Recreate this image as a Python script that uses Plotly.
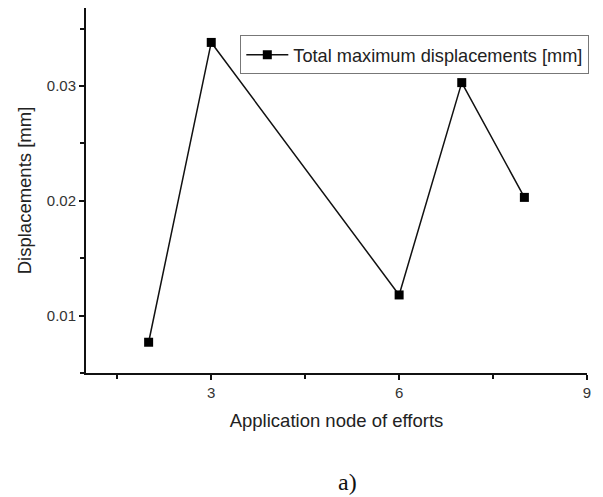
import plotly.graph_objects as go

nodes = [2, 3, 6, 7, 8]
displacements = [0.00768, 0.0338, 0.0118, 0.0303, 0.0203]
series_name = "Total maximum displacements [mm]"
x_tick_vals = [3, 6, 9]
y_tick_vals = [0.01, 0.02, 0.03]
y_tick_text = ["0.01", "0.02", "0.03"]

FONT = "Arial, Liberation Sans, sans-serif"

fig = go.Figure()
fig.add_trace(go.Scatter(
    x=nodes, y=displacements, mode="lines+markers", name=series_name,
    line=dict(color="#111111", width=1.5),
    marker=dict(symbol="square", size=9, color="#000000"),
))

axis_common = dict(
    showline=True, linecolor="#111111", linewidth=2, ticks="outside",
    tickcolor="#111111", ticklen=5, tickwidth=2, showgrid=False, zeroline=False,
    tickfont=dict(family=FONT, size=15, color="#333333"),
    mirror=False,
)
fig.update_xaxes(
    range=[1, 9], tickvals=x_tick_vals,
    minor=dict(ticks="outside", dtick=1.5, tick0=0, ticklen=4, tickwidth=2, tickcolor="#111111"),
    title=dict(text="Application node of efforts", standoff=14,
               font=dict(family=FONT, size=18.5, color="#222222")),
    **axis_common,
)
fig.update_yaxes(
    range=[0.005, 0.0368], tickvals=y_tick_vals, ticktext=y_tick_text,
    minor=dict(ticks="outside", dtick=0.005, tick0=0, ticklen=4, tickwidth=2, tickcolor="#111111"),
    title=dict(text="Displacements [mm]", standoff=10,
               font=dict(family=FONT, size=18.5, color="#222222")),
    **axis_common,
)
fig.update_layout(
    width=595, height=489,
    margin=dict(l=78, r=16, t=0, b=124, autoexpand=False),
    paper_bgcolor="white", plot_bgcolor="white",
    showlegend=True,
    legend=dict(x=0.308, y=0.925, xanchor="left", yanchor="top",
                bordercolor="#777777", borderwidth=1, bgcolor="white",
                tracegroupgap=0, itemwidth=42,
                font=dict(family=FONT, size=18.2, color="#222222")),
    annotations=[dict(text="a)", x=0.521, y=-0.298, xref="paper", yref="paper",
                      showarrow=False, xanchor="center", yanchor="middle",
                      font=dict(family="Liberation Serif, Times New Roman, serif", size=24, color="#111111"))],
)
fig.write_html("out.html")
